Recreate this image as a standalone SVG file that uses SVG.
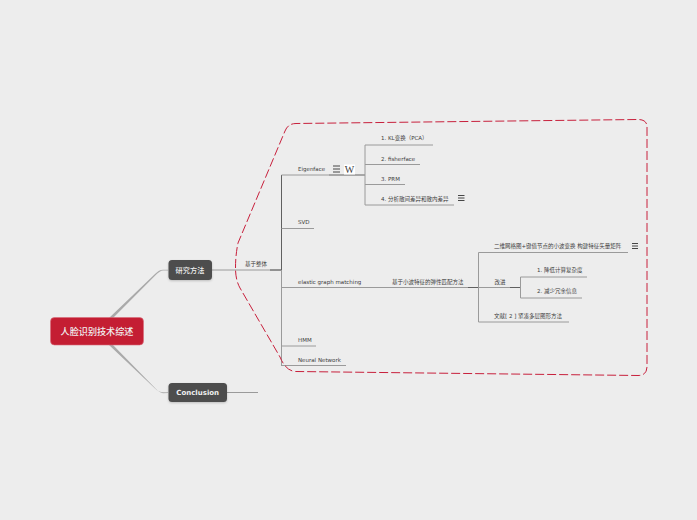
<svg xmlns="http://www.w3.org/2000/svg" width="697" height="520" viewBox="0 0 697 520">
<style>
text{font-family:"DejaVu Sans","Noto Sans CJK SC",sans-serif;font-size:5.5px;fill:#3c3c3c}
.cjk{font-family:"Noto Sans CJK SC",sans-serif;font-size:5.5px}
.l{fill:none;stroke:#9a9a9a;stroke-width:1}
.d{fill:none;stroke:#606060;stroke-width:1}
.i{fill:none;stroke:#333;stroke-width:.9}
.t{fill:#f0f0f0;font-family:"Noto Sans CJK SC",sans-serif;font-weight:500;text-anchor:middle}
</style>
<defs><filter id="s" x="-10%" y="-10%" width="120%" height="130%"><feDropShadow dx="0" dy="1" stdDeviation="1" flood-color="#000" flood-opacity=".2"/></filter></defs>
<rect width="697" height="520" fill="#ededed"/>
<g id="connectors">
<path d="M109 318L155 274Q159 269.700 163 269.700L168 269.700V270.500L163 270.600Q160 270.800 156 274.800L113 318Z" fill="#aaa"/>
<path d="M109 345L155 388.500Q159 392.300 163 392.300L168 392.300V393.100L163 393.200Q160 393 156 389L113 345Z" fill="#aaa"/>
<path class="l" d="M212 270H281M227 392.500H258"/>
<path class="d" d="M270 270H281.500"/>
<path class="d" d="M281.500 175V270"/><path class="l" d="M281.500 270V366"/>
<path class="l" d="M281.500 175H329M281.500 228.500H314M281.500 287.500H478M281.500 346H316M281.500 365.500H346"/>
<path class="d" d="M329 175H365"/>
<path class="l" d="M365 145V205M365 145H433M365 164.500H420M365 184.500H405M365 205H454"/>
<path class="d" d="M468 287.500H478"/>
<path class="l" d="M478.500 252.500V322M478.500 252.500H628M478.500 287.500H520M478.500 322H569"/>
<path class="d" d="M510 287.500H520"/>
<path class="l" d="M520.500 277V298M520.500 277H587M520.500 298H582"/>
</g>
<path id="boundary" d="M235.500 268Q235.500 255 238 243L285 131Q288 123.500 296 123.500L638 119.500Q647 119.500 647 127V367Q647 375.500 638 375.500L296 371.500Q286 371.500 280 357L240 288Q235.500 280 235.500 268Z" fill="none" stroke="#c8203c" stroke-width="1" stroke-dasharray="9 3"/>
<g id="root"><rect x="50.500" y="317.500" width="93" height="27.500" rx="4" fill="#c41e33" stroke="#d96a78" stroke-width=".6"/><text class="t" x="97" y="334.500" style="font-size:9.100px">人脸识别技术综述</text></g>
<g id="n-method"><rect x="168.500" y="260" width="43.500" height="20" rx="3.500" fill="#4d4d4d" filter="url(#s)"/><text class="t" x="190" y="272.500" style="font-size:7.200px">研究方法</text></g>
<g id="n-conclusion"><rect x="168.500" y="383" width="58.500" height="19" rx="3.500" fill="#4d4d4d" filter="url(#s)"/><text class="t" x="197.700" y="395.200" style="font-size:7px;font-family:'DejaVu Sans',sans-serif;font-weight:700">Conclusion</text></g>
<g id="n-whole"><text class="cjk" x="245" y="265.500">基于整体</text></g>
<g id="n-eigenface"><text x="298" y="171">Eigenface</text>
<path class="i" d="M333 166H340M333 169H340M333 172H340"/>
<rect x="344" y="164.500" width="11" height="10" fill="#fff"/><text x="349.500" y="173" text-anchor="middle" style="font-family:'Liberation Serif',serif;font-size:10px">W</text></g>
<g id="n-svd"><text x="298" y="224">SVD</text></g>
<g id="n-egm"><text x="298" y="284">elastic graph matching</text></g>
<g id="n-hmm"><text x="298" y="342">HMM</text></g>
<g id="n-nn"><text x="298" y="362">Neural Network</text></g>
<g id="n-kl"><text x="381" y="140">1. KL变换（PCA）</text></g>
<g id="n-fisher"><text x="381" y="161">2. fisherface</text></g>
<g id="n-prm"><text x="381" y="181">3. PRM</text></g>
<g id="n-scatter"><text x="381" y="200.500">4. 分析散间差异和散内差异</text><path class="i" d="M458 195.500H464.500M458 198H464.500M458 200.500H464.500"/></g>
<g id="n-wavelet"><text class="cjk" x="392" y="283.500">基于小波特征的弹性匹配方法</text></g>
<g id="n-mesh"><text x="494" y="248">二维网格图+键值节点的小波变换 构建特征矢量矩阵</text><path class="i" d="M632 243.500H638M632 246H638M632 248.500H638"/></g>
<g id="n-improve"><text class="cjk" x="494.500" y="283.500">改进</text></g>
<g id="n-low"><text x="537" y="272">1. 降低计算复杂度</text></g>
<g id="n-less"><text x="537" y="293">2. 减少冗余信息</text></g>
<g id="n-ref"><text x="494" y="318">文献[ 2 ] 紧凑多层图形方法</text></g>
</svg>
